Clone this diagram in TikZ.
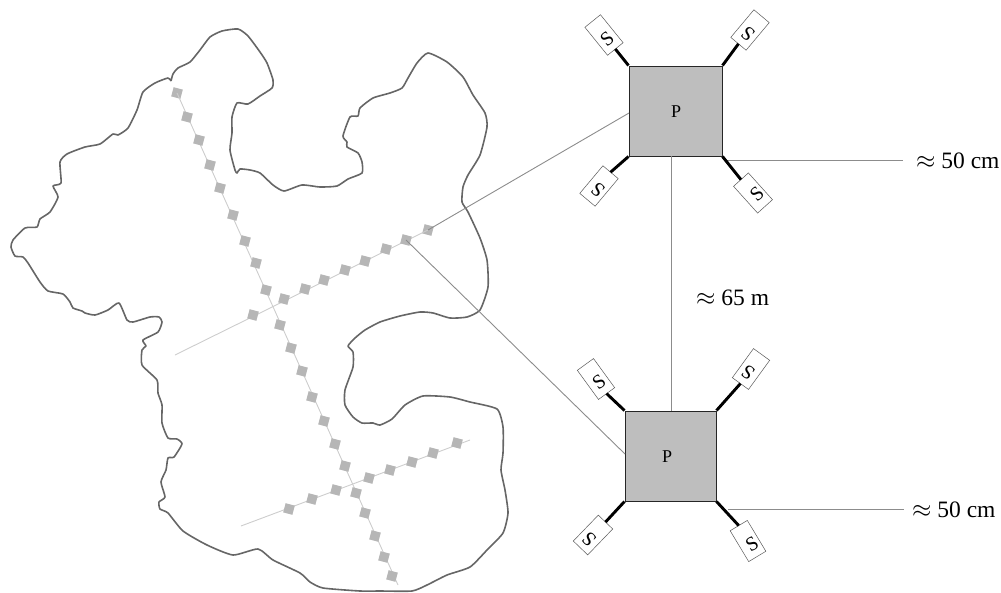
\documentclass[tikz,border=0pt]{standalone}
\usepackage{fontspec}
\setmainfont{Liberation Serif}
\usetikzlibrary{calc}
\definecolor{shore}{HTML}{666666}
\definecolor{chain}{HTML}{CDCDCD}
\definecolor{sq}{HTML}{B6B6B6}
\definecolor{link}{HTML}{8C8C8C}
\definecolor{pfill}{HTML}{BEBEBE}
\tikzset{
  shoreline/.style={draw=shore,line width=1.6pt,line join=round},
  chainline/.style={draw=chain,line width=0.9pt},
  sensorsq/.style={fill=sq,inner sep=0pt,minimum size=9.5pt,outer sep=0pt},
  linkline/.style={draw=link,line width=0.9pt},
  pbox/.style={draw=black!85,line width=1pt,fill=pfill,inner sep=0pt},
  ptext/.style={font=\fontsize{18}{20}\selectfont,inner sep=0pt},
  sbox/.style={draw=black!65,line width=0.5pt,fill=white,minimum width=36pt,minimum height=20pt,inner sep=0pt,outer sep=0pt},
  sletter/.style={font=\fontsize{20}{22}\selectfont,inner sep=0pt},
  arm/.style={draw=black,line width=2.9pt},
  lab/.style={font=\fontsize{23.5}{26}\selectfont,inner sep=0pt,anchor=base west}
}
\newcommand{\sensor}[6]{% name, box x, box y, angle, letter x, letter y
  \node[sbox,rotate=#4] (#1) at (#2,#3) {};
  \node[sletter,rotate=#4+90] (#1t) at (#5,#6) {S};
}
\begin{document}
\begin{tikzpicture}[x=1pt,y=-1pt]
\useasboundingbox (0,0) rectangle (1001,592);
% shoreline
\draw[shoreline] plot[smooth,tension=0.35] coordinates {
(171,81)(173,74)(178,68)(190,62)(200,50)(210,37)(222,31)(238,29)(248,36)(260,52)(267,63)(273,80)(272,88)(260,96)(248,104)(237,103)(232,117)(232,133)(230,150)(235,170)(237,173)(240,169)(250,170)(260,173)(273,185)(284,191)(302,185)(320,187)(337,186)(348,179)(362,173)(362,162)(358,153)(347,147)(347,142)(343,136)(350,117)(358,116)(360,108)(373,98)(390,93)(402,88)(408,78)(417,63)(428,53)(447,62)(463,77)(473,95)(485,113)(487,127)(480,155)(468,175)(463,187)(462,202)(468,212)(480,238)(487,260)(488,287)(480,310)(467,317)(450,318)(433,313)(420,312)(400,316)(380,322)(365,330)(355,338)(348,346)(353,352)(353,367)(345,390)(345,405)(353,417)(362,423)(373,423)(380,425)(392,419)(405,405)(423,396)(450,397)(470,402)(497,409)(503,427)(503,453)(501,470)(505,490)(508,513)(503,533)(487,550)(470,567)(447,575)(427,585)(412,591)(380,591)(360,591)(323,588)(310,582)(300,573)(273,560)(258,549)(233,555)(207,545)(183,531)(168,513)(160,509)(159,502)(165,497)(161,482)(166,470)(168,458)(174,457)(182,444)(177,439)(168,438)(162,423)(162,405)(158,393)(157,380)(142,365)(142,350)(146,346)(143,340)(158,332)(162,322)(159,317)(150,317)(133,322)(127,320)(119,303)(108,310)(95,315)(85,313)(82,311)(73,308)(70,302)(63,294)(48,291)(40,282)(28,263)(23,257)(15,256)(11,247)(13,240)(25,228)(37,227)(40,219)(50,212)(58,197)(53,186)(61,183)(60,162)(67,154)(85,147)(100,144)(113,134)(118,135)(128,128)(137,110)(143,92)(155,83)(168,78)(171,81)};
% free ends of the chains
\coordinate (c1end) at (398,585);
\coordinate (c2start) at (175,355);
\coordinate (c3start) at (241,526);
\coordinate (c3end) at (470,440);
% chains
\node[sensorsq,rotate=-15] (v1) at (177,93) {};
\node[sensorsq,rotate=-15] (h8) at (428,230) {};
\draw[chainline] (v1.center) -- (c1end);
\draw[chainline] (c2start) -- (h8.center);
\draw[chainline] (c3start) -- (c3end);
\foreach \n/\x/\y in {v2/187/117,v3/199/140,v4/210/165,v5/220/188,v6/233/215,v7/245/241,v8/256/263,v9/266/290,v10/280/325,v11/291/348,v12/302/371,v13/312/397,v14/324/421,v15/335/444,v16/345/466,v17/356/493,v18/365/513,v19/375/536,v20/384/557,v21/392/576}
  \node[sensorsq,rotate=-15] (\n) at (\x,\y) {};
\foreach \n/\x/\y in {h0/253/315,h1/284/299,h2/305/289,h3/324/280,h4/345/270,h5/365/261,h6/386/249,h7/406/240,k1/289/509,k2/312/499,k3/336/490,k4/369/478,k5/390/470,k6/412/462,k7/433/453,k8/457/443}
  \node[sensorsq,rotate=-15] (\n) at (\x,\y) {};
% units
\node[pbox,minimum width=93pt,minimum height=90pt] (P1) at (675.5,111) {};
\node[ptext] (P1t) at (676,112) {P};
\node[pbox,minimum width=91pt,minimum height=90pt] (P2) at (670.5,456) {};
\node[ptext] (P2t) at (667,457) {P};
\coordinate (P1w) at (629,113);
\coordinate (P2w) at (625,454);
\coordinate (P1s) at (671.5,156);
\coordinate (P2n) at (671.5,411);
\coordinate (r1a) at (727,160);
\coordinate (r1b) at (903,160);
\coordinate (r2a) at (728,509.5);
\coordinate (r2b) at (904,509.5);
\draw[linkline] (h8.center) -- (P1w);
\draw[linkline] (h7.center) -- (P2w);
\draw[linkline] (P1s) -- (P2n);
\draw[linkline] (r1a) -- (r1b);
\draw[linkline] (r2a) -- (r2b);
% sensors, top unit
\sensor{s1}{604}{35}{-51}{607}{39}
\sensor{s2}{750}{30}{50}{748}{34}
\sensor{s3}{599}{186}{50}{598}{190}
\sensor{s4}{753}{193}{-48}{757}{194}
\draw[arm] (P1.north west) -- (s1.east);
\draw[arm] (P1.north east) -- (s2.west);
\draw[arm] (P1.south west) -- (s3.east);
\draw[arm] (P1.south east) -- (s4.west);
% sensors, bottom unit
\sensor{s5}{596}{379}{-54}{599}{382}
\sensor{s6}{751}{369}{54}{748}{373}
\sensor{s7}{593}{535}{46}{589}{539}
\sensor{s8}{748}{541}{-59}{752}{544}
\draw[arm] (P2.north west) -- (s5.east);
\draw[arm] (P2.north east) -- (s6.west);
\draw[arm] (P2.south west) -- (s7.east);
\draw[arm] (P2.south east) -- (s8.west);
% labels
\node[lab] (l1) at (916,168) {$\approx$ 50 cm};
\node[lab] (l2) at (696,305) {$\approx$ 65 m};
\node[lab] (l3) at (912,517) {$\approx$ 50 cm};
\end{tikzpicture}
\end{document}
